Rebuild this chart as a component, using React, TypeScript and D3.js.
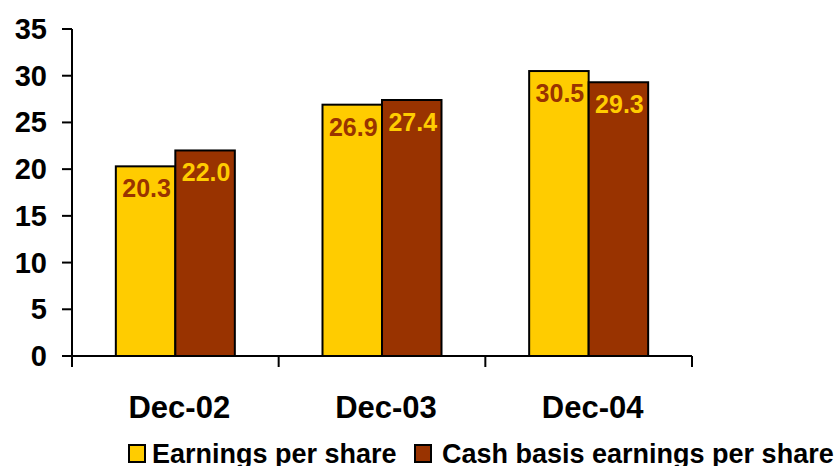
import React from "react";
import * as d3 from "d3";

const categories = ["Dec-02", "Dec-03", "Dec-04"];
const seriesNames = ["Earnings per share", "Cash basis earnings per share"];
const eps = [20.3, 26.9, 30.5];
const cashEps = [22.0, 27.4, 29.3];
const yTicks = [0, 5, 10, 15, 20, 25, 30, 35];

const W = 837;
const H = 466;
const FONT = "'Liberation Sans', Arial, Helvetica, sans-serif";
const COLORS = ["#FFCC00", "#993300"];
const LABEL_COLORS = ["#993300", "#FFCC00"];

export default function App() {
  const x0 = d3.scaleBand<string>().domain(categories).range([72, 692]).paddingInner(0).paddingOuter(0);
  const groupW = 119;
  const x1 = d3
    .scaleBand<number>()
    .domain([0, 1])
    .range([0, groupW])
    .padding(0);
  const y = d3.scaleLinear().domain([0, 35]).range([356, 29]);
  const series = [eps, cashEps];
  const bw = x0.bandwidth();

  return (
    <svg
      width={W}
      height={H}
      style={{ position: "absolute", left: 0, top: 0, background: "#fff" }}
      fontFamily={FONT}
    >
      {/* bars */}
      {categories.map((c, i) => {
        const gx = (x0(c) as number) + (bw - groupW) / 2;
        return (
          <g key={c}>
            {series.map((s, k) => (
              <rect
                key={k}
                x={gx + (x1(k) as number)}
                y={y(s[i])}
                width={x1.bandwidth()}
                height={y(0) - y(s[i])}
                fill={COLORS[k]}
                stroke="#000"
                strokeWidth={2}
              />
            ))}
            {series.map((s, k) => (
              <text
                key={"l" + k}
                x={gx + (x1(k) as number) + x1.bandwidth() / 2 + 1}
                y={y(s[i]) + 31}
                textAnchor="middle"
                fontWeight="bold"
                fontSize={25}
                fill={LABEL_COLORS[k]}
              >
                {s[i].toFixed(1)}
              </text>
            ))}
          </g>
        );
      })}

      {/* y axis */}
      <line x1={72} x2={72} y1={y(35)} y2={y(0)} stroke="#000" strokeWidth={2} />
      {yTicks.map((t) => (
        <g key={t}>
          <line x1={62} x2={72} y1={y(t)} y2={y(t)} stroke="#000" strokeWidth={2} />
          <text
            x={47}
            y={y(t) + 10}
            textAnchor="end"
            fontWeight="bold"
            fontSize={29}
            fill="#000"
          >
            {t}
          </text>
        </g>
      ))}

      {/* x axis */}
      <line x1={72} x2={692} y1={y(0)} y2={y(0)} stroke="#000" strokeWidth={2} />
      {[...categories.map((c) => x0(c) as number), 692].map((tx, i) => (
        <line key={i} x1={tx} x2={tx} y1={y(0)} y2={y(0) + 11} stroke="#000" strokeWidth={2} />
      ))}
      {categories.map((c) => (
        <text
          key={c}
          x={(x0(c) as number) + bw / 2 + 4}
          y={418}
          textAnchor="middle"
          fontWeight="bold"
          fontSize={31}
          fill="#000"
        >
          {c}
        </text>
      ))}

      {/* legend */}
      {[
        { sx: 129, tx: 152 },
        { sx: 415, tx: 442 },
      ].map((p, k) => (
        <g key={k}>
          <rect x={p.sx} y={445} width={16} height={17} fill={COLORS[k]} stroke="#000" strokeWidth={2} />
          <text x={p.tx} y={463} fontWeight="bold" fontSize={27} fill="#000">
            {seriesNames[k]}
          </text>
        </g>
      ))}
    </svg>
  );
}
